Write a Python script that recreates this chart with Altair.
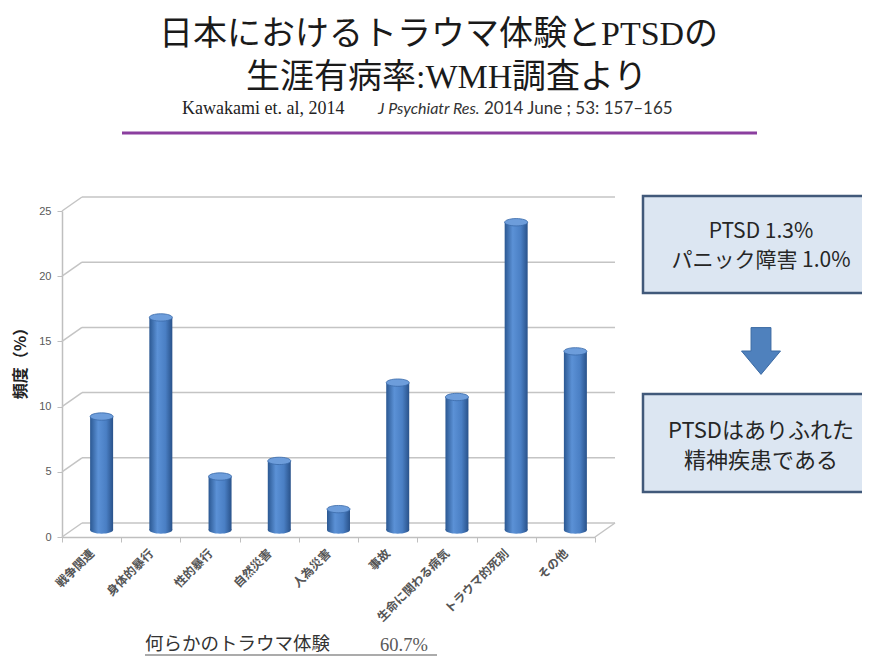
import altair as alt
import pandas as pd

# ---------------- data ----------------
categories = ["戦争関連", "身体的暴行", "性的暴行", "自然災害", "人為災害",
              "事故", "生命に関わる病気", "トラウマ的死別", "その他"]
values = [8.7, 16.3, 4.1, 5.3, 1.6, 11.3, 10.2, 23.6, 13.7]
y_ticks = [0, 5, 10, 15, 20, 25]

title_line1 = ["日本におけるトラウマ体験と", "PTSD", "の"]
title_line2 = ["生涯有病率", ":WMH", "調査より"]
sub_author = "Kawakami  et. al, 2014"
sub_journal = "J Psychiatr Res."
sub_ref = "2014 June ; 53: 157–165"
box1_lines = ["PTSD 1.3%", "パニック障害 1.0%"]
box2_lines = ["PTSDはありふれた", "精神疾患である"]
footer_label = "何らかのトラウマ体験"
footer_value = "60.7%"
y_title = "頻度（%）"

# ---------------- layout ----------------
W, H = 533, 326
OX, OY = 62, 211          # page position of plot origin
DX, DY = 20, 14           # depth of the 3-D back wall


def px(x):
    return x - OX


def py(y):
    return y - OY


JP = "Noto Sans CJK JP"
SERIF = "Liberation Serif"

df = pd.DataFrame({"category": categories, "value": values})
ticks_df = pd.DataFrame({"tick": y_ticks})
one = pd.DataFrame({"k": [0]})

yscale = alt.Scale(domain=[0, 25], nice=False, zero=True)
xscale = alt.Scale(domain=categories, paddingInner=0, paddingOuter=0)

bar_grad = alt.Gradient(
    gradient="linear", x1=0, x2=1, y1=0, y2=0,
    stops=[alt.GradientStop(color="#2b5892", offset=0),
           alt.GradientStop(color="#5b91d6", offset=0.35),
           alt.GradientStop(color="#4a7fc4", offset=0.7),
           alt.GradientStop(color="#29528a", offset=1)])

ELLIPSE = "M-1,0 A1,0.32 0 1,0 1,0 A1,0.32 0 1,0 -1,0 Z"
ARROW = "M-0.51,-1.2 L0.51,-1.2 L0.51,0 L1,0 L0,1.2 L-1,0 L-0.51,0 Z"
GRID = "#c4c4c4"

xenc_noaxis = alt.X("category:N", scale=xscale, axis=None)

back = alt.Chart(ticks_df).mark_rule(color=GRID, strokeWidth=1.5, yOffset=-DY).encode(
    y=alt.Y("tick:Q", scale=yscale, axis=None),
    x=alt.value(DX), x2=alt.value(W + DX))

diag = alt.Chart(ticks_df).transform_calculate(
    top=f"datum.tick + {DY * 25 / H}"
).mark_rule(color=GRID, strokeWidth=1.5).encode(
    y=alt.Y("tick:Q", scale=yscale, axis=None), y2="top:Q",
    x=alt.value(0), x2=alt.value(DX))

rdiag = alt.Chart(one).mark_rule(color=GRID, strokeWidth=1.5).encode(
    x=alt.value(W), x2=alt.value(W + DX), y=alt.value(H), y2=alt.value(H - DY))

bottoms = alt.Chart(df).transform_calculate(zero="0").mark_point(
    shape=ELLIPSE, size=529, filled=True, fill=bar_grad, opacity=1,
    strokeWidth=0, xOffset=10, yOffset=-7
).encode(x=xenc_noaxis, y=alt.Y("zero:Q", scale=yscale, axis=None))

bars = alt.Chart(df).mark_bar(width=23, xOffset=10, yOffset=-7, fill=bar_grad).encode(
    x=alt.X("category:N", scale=xscale, sort=categories, axis=alt.Axis(
        title=None, labelAngle=315, labelAlign="right", labelBaseline="middle",
        labelFont=JP, labelFontSize=12, labelFontWeight="bold", labelColor="#555555",
        labelPadding=9, tickBand="extent", tickSize=5, tickColor="#bfbfbf",
        domainColor="#bfbfbf", domainWidth=1.5, labelOverlap=False, grid=False)),
    y=alt.Y("value:Q", scale=yscale, axis=alt.Axis(
        values=y_ticks, title=y_title, titleFont=JP, titleFontSize=16,
        titleFontWeight="bold", titleColor="#222222", titleX=px(20), titleY=py(359),
        titleAngle=270, titleAlign="center", titleBaseline="middle",
        labelFont="Liberation Sans", labelFontSize=11, labelColor="#595959",
        tickSize=5, tickColor="#bfbfbf", domainColor="#bfbfbf", domainWidth=1.5,
        labelPadding=6, grid=False)))

tops = alt.Chart(df).mark_point(
    shape=ELLIPSE, size=529, filled=True, fill="#6d9ddb", stroke="#3a6aa8",
    strokeWidth=0.8, opacity=1, xOffset=10, yOffset=-7
).encode(x=xenc_noaxis, y=alt.Y("value:Q", scale=yscale, axis=None))


def text_layer(txt, x, y, size, font=JP, align="left", baseline="alphabetic",
               color="#1a1a1a", weight="normal", style="normal"):
    return alt.Chart(one).mark_text(
        text=txt, font=font, fontSize=size, align=align, baseline=baseline,
        color=color, fontWeight=weight, fontStyle=style
    ).encode(x=alt.value(x), y=alt.value(y))


def rect_layer(x1, x2, y1, y2, fill, stroke, sw):
    return alt.Chart(one).mark_rect(fill=fill, stroke=stroke, strokeWidth=sw).encode(
        x=alt.value(x1), x2=alt.value(x2), y=alt.value(y1), y2=alt.value(y2))


ann = []
# title
ann.append(text_layer(title_line1[0], px(159), py(45), 34))
ann.append(text_layer(title_line1[1], px(159) + 442, py(45), 34, font=SERIF))
ann.append(text_layer(title_line1[2], px(159) + 525, py(45), 34))
ann.append(text_layer(title_line2[0], px(246), py(88), 34))
ann.append(text_layer(title_line2[1], px(246) + 170, py(88), 34, font=SERIF))
ann.append(text_layer(title_line2[2], px(246) + 266, py(88), 34))
# subtitle
ann.append(text_layer(sub_author, px(182), py(114), 18, font=SERIF, color="#222222"))
ann.append(text_layer(sub_journal, px(378), py(114), 16, font="Lato", style="italic", color="#333333"))
ann.append(text_layer(sub_ref, px(378) + 106, py(114), 17, font="Lato", color="#333333"))
# purple rule
ann.append(alt.Chart(one).mark_rule(color="#8b3f9f", strokeWidth=3).encode(
    x=alt.value(px(122)), x2=alt.value(px(757)), y=alt.value(py(133))))
# right boxes
ann.append(rect_layer(px(643), px(900), py(196), py(293), "#dce6f2", "#41597a", 2.5))
ann.append(text_layer(box1_lines[0], px(761), py(232), 21, align="center", baseline="middle", color="#262626"))
ann.append(text_layer(box1_lines[1], px(761), py(261), 21, align="center", baseline="middle", color="#262626"))
ann.append(alt.Chart(one).mark_point(
    shape=ARROW, size=1521, filled=True, fill="#4f81bd", stroke="#3b6aa3",
    strokeWidth=1, opacity=1).encode(x=alt.value(px(761)), y=alt.value(py(351))))
ann.append(rect_layer(px(643), px(900), py(394), py(492), "#dce6f2", "#41597a", 2.5))
ann.append(text_layer(box2_lines[0], px(761), py(431), 22, align="center", baseline="middle", color="#262626"))
ann.append(text_layer(box2_lines[1], px(761), py(461), 22, align="center", baseline="middle", color="#262626"))
# footer
ann.append(text_layer(footer_label, px(145), py(644), 18.5, baseline="middle", color="#333333"))
ann.append(text_layer(footer_value, px(380), py(645), 18.5, font=SERIF, baseline="middle", color="#595959"))
ann.append(alt.Chart(one).mark_rule(color="#595959", strokeWidth=1.2).encode(
    x=alt.value(px(145)), x2=alt.value(px(437)), y=alt.value(py(655))))

chart = alt.layer(back, diag, rdiag, bottoms, bars, tops, *ann).resolve_axis(
    x="independent", y="independent"
).properties(
    width=W, height=H,
    autosize=alt.AutoSizeParams(type="none"),
    padding={"left": 54, "top": 203, "right": 267, "bottom": 119},
    background="white",
).configure_view(stroke=None)

chart.save("out.html", embed_options={"renderer": "svg", "actions": False})
